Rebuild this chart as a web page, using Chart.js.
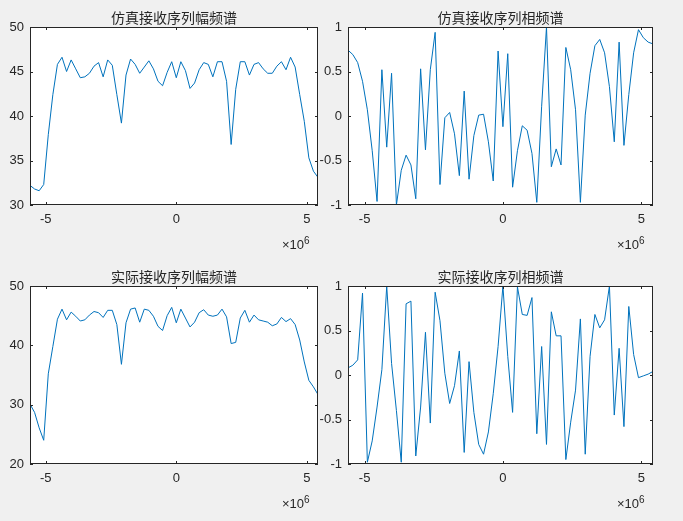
<!DOCTYPE html>
<html><head><meta charset="utf-8">
<script src="https://cdn.jsdelivr.net/npm/chart.js@4"></script>
<style>
body{margin:0;background:#f0f0f0;width:683px;height:521px;position:relative;overflow:hidden;font-family:"Noto Sans CJK SC","Noto Sans",sans-serif}
canvas{position:absolute}
.t{position:absolute;font-size:14px;color:#262626;text-align:center;line-height:16px}
.e{position:absolute;font-size:13px;color:#262626;font-family:"Liberation Sans",Arial,sans-serif}
.e sup{font-size:10px}
</style></head><body>
<canvas id="c1" style="left:0;top:0" width="330" height="240"></canvas>
<canvas id="c2" style="left:290px;top:0" width="375" height="240"></canvas>
<canvas id="c3" style="left:0;top:259px" width="330" height="240"></canvas>
<canvas id="c4" style="left:290px;top:259px" width="375" height="240"></canvas>
<div class="t" style="left:30px;width:288px;top:9px">仿真接收序列幅频谱</div>
<div class="t" style="left:348px;width:305px;top:9px">仿真接收序列相频谱</div>
<div class="t" style="left:30px;width:288px;top:268px">实际接收序列幅频谱</div>
<div class="t" style="left:348px;width:305px;top:268px">实际接收序列相频谱</div>
<div class="e" style="left:282px;top:235px">×10<sup>6</sup></div>
<div class="e" style="left:617px;top:235px">×10<sup>6</sup></div>
<div class="e" style="left:282px;top:494px">×10<sup>6</sup></div>
<div class="e" style="left:617px;top:494px">×10<sup>6</sup></div>
<script>
const simMag=[32.2,31.8,31.6,32.3,37.9,42.4,45.8,46.6,45.0,46.3,45.3,44.3,44.4,44.8,45.6,46.0,44.4,46.3,45.7,42.4,39.2,44.6,46.4,45.8,44.8,45.5,46.2,45.3,43.9,43.4,44.9,46.1,44.3,46.1,45.1,43.1,43.7,45.2,46.0,45.8,44.4,46.1,46.1,43.9,36.8,43.0,46.1,46.1,44.6,45.8,46.0,45.3,44.8,44.8,45.6,46.1,45.2,46.6,45.5,42.4,39.4,35.3,33.8,33.1];
const simPhase=[0.74,0.69,0.60,0.39,0.07,-0.39,-0.96,0.52,-0.35,0.48,-1.0,-0.61,-0.44,-0.55,-0.93,0.53,-0.38,0.52,0.94,-0.77,-0.02,0.04,-0.2,-0.67,0.28,-0.71,-0.22,0.01,0.02,-0.29,-0.73,0.73,-0.12,0.70,-0.80,-0.39,-0.11,-0.16,-0.42,-0.97,0.11,1.0,-0.57,-0.37,-0.55,0.77,0.52,0.07,-0.97,0.01,0.48,0.79,0.86,0.71,0.33,-0.29,0.83,-0.33,0.24,0.71,0.97,0.88,0.83,0.81];
const realMag=[30.1,28.7,26.1,24.0,35.2,39.8,44.4,46.1,44.3,45.6,44.9,44.1,44.3,45.1,45.7,45.5,44.7,45.9,45.9,43.5,36.8,43.8,46.1,46.3,43.9,46.1,45.9,44.9,43.2,42.5,45.0,46.4,43.8,46.1,44.6,43.1,43.9,45.5,46.0,45.1,44.9,45.1,46.1,44.8,40.3,40.5,44.6,45.9,43.9,45.1,44.3,44.1,43.9,43.3,43.6,44.7,44.0,44.5,43.5,40.9,37.2,34.1,33.0,31.7];
const realPhase=[0.08,0.11,0.17,0.92,-0.98,-0.74,-0.36,0.06,1.0,0.13,-0.40,-0.98,0.80,0.83,-0.91,-0.36,0.48,-0.54,0.93,0.61,0.02,-0.32,-0.12,0.27,-0.87,0.15,-0.42,-0.78,-0.89,-0.64,-0.21,0.32,1.0,0.21,-0.42,0.99,0.68,0.67,0.87,-0.66,0.32,-0.78,0.71,0.44,0.44,-0.95,-0.53,-0.17,0.63,-0.89,0.21,0.68,0.53,0.62,1.0,-0.45,0.30,-0.58,0.77,0.23,-0.03,-0.01,0.01,0.04];
const freqStart=-5.6e6, freqStep=0.175e6;
const xTicks=[-5e6,0,5e6];
const magTicksTop=[30,35,40,45,50], magTicksBot=[20,30,40,50], phaseTicks=[-1,-0.5,0,0.5,1];

const boxPlugin={id:'box',
 beforeDraw(c){const a=c.chartArea,ctx=c.ctx;ctx.save();ctx.fillStyle='#ffffff';ctx.fillRect(a.left,a.top,a.right-a.left,a.bottom-a.top);ctx.restore();},
 afterDraw(c){
  const a=c.chartArea,ctx=c.ctx;ctx.save();ctx.strokeStyle='#262626';ctx.lineWidth=1;
  ctx.strokeRect(Math.round(a.left)+0.5,Math.round(a.top)+0.5,Math.round(a.right-a.left)-1,Math.round(a.bottom-a.top)-1);
  ctx.beginPath();
  c.scales.x.ticks.forEach(t=>{const px=Math.round(c.scales.x.getPixelForValue(t.value))+0.5;
    ctx.moveTo(px,a.bottom);ctx.lineTo(px,a.bottom-3);ctx.moveTo(px,a.top);ctx.lineTo(px,a.top+3);});
  c.scales.y.ticks.forEach(t=>{const py=Math.round(c.scales.y.getPixelForValue(t.value))+0.5;
    ctx.moveTo(a.left,py);ctx.lineTo(a.left+3,py);ctx.moveTo(a.right,py);ctx.lineTo(a.right-3,py);});
  ctx.stroke();ctx.restore();}};

function make(id,vals,ymin,ymax,yt,yw){
  const pts=vals.map((v,i)=>({x:freqStart+i*freqStep,y:v}));
  new Chart(document.getElementById(id),{type:'line',
    data:{datasets:[{data:pts,borderColor:'#0072BD',borderWidth:1,pointRadius:0,tension:0,fill:false}]},
    options:{responsive:false,animation:false,devicePixelRatio:1,
      layout:{padding:{top:27,right:12,left:0,bottom:0}},
      plugins:{legend:{display:false},tooltip:{enabled:false}},
      scales:{
        x:{type:'linear',min:-5.6e6,max:5.425e6,grid:{display:false,drawTicks:false},border:{display:false},
          afterFit(s){s.height=35;},
          afterBuildTicks(s){s.ticks=xTicks.map(v=>({value:v}));},
          ticks:{color:'#262626',font:{size:13,family:'Liberation Sans'},padding:7,callback:v=>String(v/1e6)}},
        y:{min:ymin,max:ymax,grid:{display:false,drawTicks:false},border:{display:false},
          afterFit(s){s.width=yw;},
          afterBuildTicks(s){s.ticks=yt.map(v=>({value:v}));},
          ticks:{color:'#262626',font:{size:13,family:'Liberation Sans'},padding:6,callback:v=>String(v)}}}},
    plugins:[boxPlugin]});
}
make('c1',simMag,30,50,magTicksTop,30);
make('c2',simPhase,-1,1,phaseTicks,58);
make('c3',realMag,20,50,magTicksBot,30);
make('c4',realPhase,-1,1,phaseTicks,58);
</script></body></html>
